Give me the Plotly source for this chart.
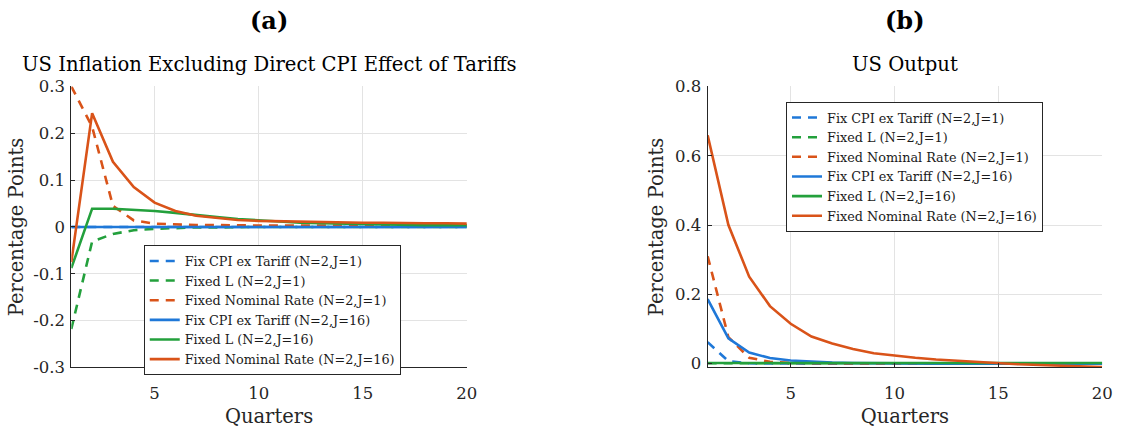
import plotly.graph_objects as go

quarters = list(range(1, 21))

# Panel (a): US inflation excluding direct CPI effect of tariffs
a_fixcpi_j1 = [0.0] * 20
a_fixedl_j1 = [-0.218, -0.031, -0.015, -0.007, -0.004, -0.002, -0.001, -0.001, 0.0, 0.0,
               0.0, 0.0, 0.0, 0.0, 0.0, 0.0, 0.0, 0.0, 0.0, 0.0]
a_fixrate_j1 = [0.300, 0.214, 0.045, 0.014, 0.007, 0.005, 0.004, 0.004, 0.003, 0.003,
                0.003, 0.003, 0.003, 0.003, 0.003, 0.003, 0.003, 0.003, 0.003, 0.003]
a_fixcpi_j16 = [0.0] * 20
a_fixedl_j16 = [-0.088, 0.039, 0.039, 0.037, 0.034, 0.030, 0.025, 0.021, 0.017, 0.014,
                0.011, 0.009, 0.008, 0.007, 0.006, 0.005, 0.005, 0.004, 0.004, 0.004]
a_fixrate_j16 = [-0.075, 0.243, 0.139, 0.085, 0.052, 0.034, 0.024, 0.019, 0.015, 0.013,
                 0.012, 0.011, 0.010, 0.010, 0.009, 0.009, 0.008, 0.008, 0.008, 0.007]

# Panel (b): US output
b_fixcpi_j1 = [0.062, 0.007, 0.001, 0.0, 0.0, 0.0, 0.0, 0.0, 0.0, 0.0,
               0.0, 0.0, 0.0, 0.0, 0.0, 0.0, 0.0, 0.0, 0.0, 0.0]
b_fixedl_j1 = [0.001] * 20
b_fixrate_j1 = [0.310, 0.076, 0.017, 0.005, 0.002, 0.001, 0.0, 0.0, 0.0, 0.0,
                0.0, 0.0, 0.0, 0.0, 0.0, 0.0, 0.0, 0.0, 0.0, 0.0]
b_fixcpi_j16 = [0.186, 0.073, 0.032, 0.016, 0.009, 0.005, 0.003, 0.002, 0.001, 0.001,
                0.0, 0.0, 0.0, 0.0, 0.0, 0.0, 0.0, 0.0, 0.0, 0.0]
b_fixedl_j16 = [0.002] * 20
b_fixrate_j16 = [0.659, 0.400, 0.251, 0.166, 0.115, 0.078, 0.058, 0.042, 0.030, 0.023,
                 0.017, 0.012, 0.008, 0.004, 0.001, -0.002, -0.004, -0.006, -0.008, -0.010]

names = ["Fix CPI ex Tariff (N=2,J=1)", "Fixed L (N=2,J=1)", "Fixed Nominal Rate (N=2,J=1)",
         "Fix CPI ex Tariff (N=2,J=16)", "Fixed L (N=2,J=16)", "Fixed Nominal Rate (N=2,J=16)"]
colors = ["#1f78d8", "#23a03c", "#d95319", "#1f78d8", "#23a03c", "#d95319"]
dashes = ["9px,7px", "9px,7px", "9px,7px", "solid", "solid", "solid"]

a_ticks = [-0.3, -0.2, -0.1, 0, 0.1, 0.2, 0.3]
a_ticktext = ["-0.3", "-0.2", "-0.1", "0", "0.1", "0.2", "0.3"]
b_ticks = [0, 0.2, 0.4, 0.6, 0.8]
b_ticktext = ["0", "0.2", "0.4", "0.6", "0.8"]
x_ticks = [5, 10, 15, 20]

FONT = "DejaVu Serif"

fig = go.Figure()
series_a = [a_fixcpi_j1, a_fixedl_j1, a_fixrate_j1, a_fixcpi_j16, a_fixedl_j16, a_fixrate_j16]
series_b = [b_fixcpi_j1, b_fixedl_j1, b_fixrate_j1, b_fixcpi_j16, b_fixedl_j16, b_fixrate_j16]
for i in range(6):
    fig.add_trace(go.Scatter(x=quarters, y=series_a[i], mode="lines", name=names[i],
                             line=dict(color=colors[i], width=2.6, dash=dashes[i]),
                             xaxis="x", yaxis="y", legend="legend"))
for i in range(6):
    fig.add_trace(go.Scatter(x=quarters, y=series_b[i], mode="lines", name=names[i],
                             line=dict(color=colors[i], width=2.6, dash=dashes[i]),
                             xaxis="x2", yaxis="y2", legend="legend2"))

axis_common = dict(showgrid=True, gridcolor="#e3e3e3", gridwidth=1, zeroline=False,
                   showline=True, linecolor="#262626", linewidth=1, ticks="inside",
                   ticklen=4, tickcolor="#262626", mirror=False,
                   tickfont=dict(family=FONT, size=16.5, color="#262626"))

title_font = dict(family=FONT, size=19.5, color="#262626")

legend_common = dict(bgcolor="white", bordercolor="#262626", borderwidth=1,
                     font=dict(family=FONT, size=12.8, color="#1a1a1a"),
                     tracegroupgap=0, itemwidth=30, xanchor="left", yanchor="top")

fig.update_layout(
    width=1126, height=431,
    margin=dict(l=0, r=0, t=0, b=0),
    paper_bgcolor="white", plot_bgcolor="white",
    showlegend=True,
    xaxis=dict(domain=[0.0639, 0.4183], range=[1, 20], tickvals=x_ticks, anchor="y",
               ticklabelstandoff=11,
               title=dict(text="Quarters", font=title_font, standoff=7),
               **axis_common),
    yaxis=dict(domain=[0.130, 0.812], range=[-0.3, 0.3], tickvals=a_ticks, ticktext=a_ticktext,
               anchor="x", ticklabelstandoff=2,
               title=dict(text="Percentage Points", font=title_font, standoff=4),
               **axis_common),
    xaxis2=dict(domain=[0.6341, 0.9876], range=[1, 20], tickvals=x_ticks, anchor="y2",
                ticklabelstandoff=11,
                title=dict(text="Quarters", font=title_font, standoff=7),
                **axis_common),
    yaxis2=dict(domain=[0.130, 0.812], range=[-0.011, 0.8], tickvals=b_ticks, ticktext=b_ticktext,
                anchor="x2", ticklabelstandoff=2,
                title=dict(text="Percentage Points", font=title_font, standoff=6),
                **axis_common),
    legend=dict(x=0.1288, y=1 - 247 / 431, **legend_common),
    legend2=dict(x=0.7043, y=1 - 97 / 431, **legend_common),
    annotations=[
        dict(text="<b>(a)</b>", x=0.2411, y=1 - 12 / 431, xref="paper", yref="paper",
             xanchor="center", showarrow=False, font=dict(family=FONT, size=24, color="black"),
             yanchor="middle"),
        dict(text="<b>(b)</b>", x=0.8108, y=1 - 12 / 431, xref="paper", yref="paper",
             xanchor="center", showarrow=False, font=dict(family=FONT, size=24, color="black"),
             yanchor="middle"),
        dict(text="US Inflation Excluding Direct CPI Effect of Tariffs", x=0.2411, y=1 - 58 / 431,
             xref="paper", yref="paper", xanchor="center", showarrow=False,
             font=dict(family=FONT, size=19.6, color="black"), yanchor="middle"),
        dict(text="US Output", x=0.8108, y=1 - 58 / 431, xref="paper", yref="paper",
             xanchor="center", showarrow=False,
             font=dict(family=FONT, size=19.6, color="black"), yanchor="middle"),
    ],
)

fig.write_html("out.html")
